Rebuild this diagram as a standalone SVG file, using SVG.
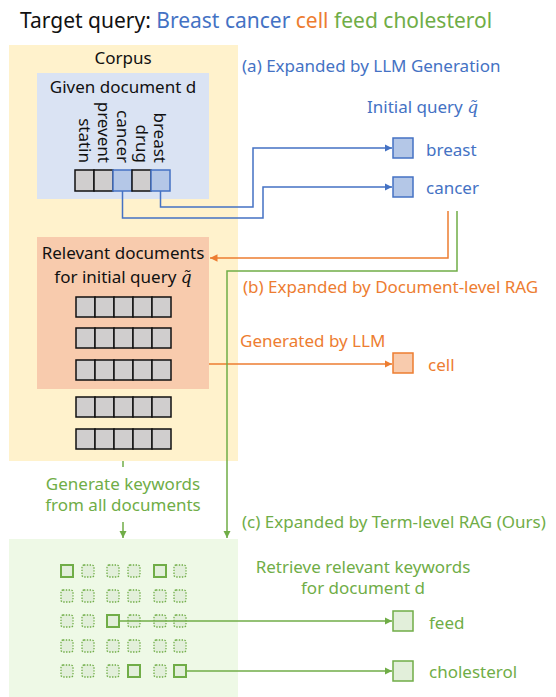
<svg xmlns="http://www.w3.org/2000/svg" width="556" height="697" viewBox="0 0 556 697">
  <style>
    text { font-family: "Noto Sans", "Liberation Sans", sans-serif; font-size: 17px; }
    .title { font-size: 21px; }
    .blue { fill: #4472c4; }
    .orange { fill: #ed7d31; }
    .green { fill: #70ad47; }
    .dark { fill: #111111; }
    .q { font-family: "DejaVu Serif", "Liberation Serif", serif; font-style: italic; }
    .cell { fill: #d0cece; stroke: #111111; stroke-width: 1.5; }
    .cellb { fill: #b4c7e7; stroke: #4472c4; stroke-width: 1.5; }
    .qb { fill: #b4c7e7; stroke: #4472c4; stroke-width: 1.5; }
    .qo { fill: #f8cbad; stroke: #ed7d31; stroke-width: 1.5; }
    .qg { fill: #e2efda; stroke: #70ad47; stroke-width: 1.5; }
    .kw { fill: #e2efda; stroke: #70ad47; stroke-width: 1.3; stroke-dasharray: 1.4 1.4; }
    .kws { fill: #e2efda; stroke: #70ad47; stroke-width: 2; }
    .lb { fill: none; stroke: #4472c4; stroke-width: 1.5; }
    .lo { fill: none; stroke: #ed7d31; stroke-width: 1.5; }
    .lg { fill: none; stroke: #70ad47; stroke-width: 1.5; }
  </style>
  <defs>
    <marker id="ab" viewBox="0 0 10 10" refX="10" refY="5" markerWidth="5" markerHeight="5" orient="auto" markerUnits="strokeWidth">
      <path d="M0,0 L10,5 L0,10 z" fill="#4472c4"/>
    </marker>
    <marker id="ao" viewBox="0 0 10 10" refX="10" refY="5" markerWidth="5" markerHeight="5" orient="auto" markerUnits="strokeWidth">
      <path d="M0,0 L10,5 L0,10 z" fill="#ed7d31"/>
    </marker>
    <marker id="ag" viewBox="0 0 10 10" refX="10" refY="5" markerWidth="5" markerHeight="5" orient="auto" markerUnits="strokeWidth">
      <path d="M0,0 L10,5 L0,10 z" fill="#70ad47"/>
    </marker>
  </defs>

  <rect width="556" height="697" fill="#ffffff"/>

  <!-- heading -->
  <text class="title" x="20" y="28"><tspan class="dark">Target query: </tspan><tspan class="blue">Breast cancer </tspan><tspan class="orange">cell </tspan><tspan class="green">feed cholesterol</tspan></text>

  <!-- corpus panel -->
  <g id="corpus">
    <rect x="9" y="45" width="229" height="416" fill="#fff2cc"/>
    <text class="dark" x="123" y="64" text-anchor="middle">Corpus</text>
  </g>

  <!-- given document d -->
  <g id="given-doc">
    <rect x="37" y="73" width="172" height="126" fill="#dae3f3"/>
    <text class="dark" x="123" y="93" text-anchor="middle">Given document d</text>
    <text class="dark" transform="translate(79,163) rotate(90)" text-anchor="end">statin</text>
    <text class="dark" transform="translate(98,163) rotate(90)" text-anchor="end">prevent</text>
    <text class="dark" transform="translate(117,163) rotate(90)" text-anchor="end">cancer</text>
    <text class="dark" transform="translate(136,163) rotate(90)" text-anchor="end">drug</text>
    <text class="dark" transform="translate(154,163) rotate(90)" text-anchor="end">breast</text>
    <rect class="cell" x="75" y="170" width="19" height="21"/>
    <rect class="cell" x="94" y="170" width="19" height="21"/>
    <rect class="cellb" x="113" y="170" width="19" height="21"/>
    <rect class="cell" x="132" y="170" width="19" height="21"/>
    <rect class="cellb" x="151" y="170" width="19" height="21"/>
  </g>

  <!-- relevant documents for the initial query -->
  <g id="relevant-docs">
    <rect x="37" y="237" width="172" height="152" fill="#f8cbad"/>
    <text class="dark" x="123" y="259" text-anchor="middle">Relevant documents</text>
    <text class="dark" x="123" y="283" text-anchor="middle">for initial query <tspan class="q">q̃</tspan></text>
  </g>

  <!-- document rows -->
  <g id="doc-rows">
    <g transform="translate(76,297)">
      <rect class="cell" x="0" y="0" width="19" height="20"/><rect class="cell" x="19" y="0" width="19" height="20"/><rect class="cell" x="38" y="0" width="19" height="20"/><rect class="cell" x="57" y="0" width="19" height="20"/><rect class="cell" x="76" y="0" width="19" height="20"/>
    </g>
    <g transform="translate(76,328)">
      <rect class="cell" x="0" y="0" width="19" height="20"/><rect class="cell" x="19" y="0" width="19" height="20"/><rect class="cell" x="38" y="0" width="19" height="20"/><rect class="cell" x="57" y="0" width="19" height="20"/><rect class="cell" x="76" y="0" width="19" height="20"/>
    </g>
    <g transform="translate(76,360)">
      <rect class="cell" x="0" y="0" width="19" height="20"/><rect class="cell" x="19" y="0" width="19" height="20"/><rect class="cell" x="38" y="0" width="19" height="20"/><rect class="cell" x="57" y="0" width="19" height="20"/><rect class="cell" x="76" y="0" width="19" height="20"/>
    </g>
    <g transform="translate(76,397)">
      <rect class="cell" x="0" y="0" width="19" height="20"/><rect class="cell" x="19" y="0" width="19" height="20"/><rect class="cell" x="38" y="0" width="19" height="20"/><rect class="cell" x="57" y="0" width="19" height="20"/><rect class="cell" x="76" y="0" width="19" height="20"/>
    </g>
    <g transform="translate(76,429)">
      <rect class="cell" x="0" y="0" width="19" height="20"/><rect class="cell" x="19" y="0" width="19" height="20"/><rect class="cell" x="38" y="0" width="19" height="20"/><rect class="cell" x="57" y="0" width="19" height="20"/><rect class="cell" x="76" y="0" width="19" height="20"/>
    </g>
  </g>

  <!-- keyword pool -->
  <g id="keyword-pool">
    <rect x="9" y="539" width="229" height="158" fill="#eef9e6"/>
    <g id="kw-grid">
      <rect class="kws" x="61" y="565" width="12" height="12"/>
      <rect class="kw" x="82" y="565" width="12" height="12" rx="2"/>
      <rect class="kw" x="107" y="565" width="12" height="12" rx="2"/>
      <rect class="kw" x="128" y="565" width="12" height="12" rx="2"/>
      <rect class="kws" x="154" y="565" width="12" height="12"/>
      <rect class="kw" x="174" y="565" width="12" height="12" rx="2"/>

      <rect class="kw" x="61" y="590" width="12" height="12" rx="2"/>
      <rect class="kw" x="82" y="590" width="12" height="12" rx="2"/>
      <rect class="kw" x="107" y="590" width="12" height="12" rx="2"/>
      <rect class="kw" x="128" y="590" width="12" height="12" rx="2"/>
      <rect class="kw" x="154" y="590" width="12" height="12" rx="2"/>
      <rect class="kw" x="174" y="590" width="12" height="12" rx="2"/>

      <rect class="kw" x="61" y="615" width="12" height="12" rx="2"/>
      <rect class="kw" x="82" y="615" width="12" height="12" rx="2"/>
      <rect class="kws" x="107" y="615" width="12" height="12"/>
      <rect class="kw" x="128" y="615" width="12" height="12" rx="2"/>
      <rect class="kw" x="154" y="615" width="12" height="12" rx="2"/>
      <rect class="kw" x="174" y="615" width="12" height="12" rx="2"/>

      <rect class="kw" x="61" y="640" width="12" height="12" rx="2"/>
      <rect class="kw" x="82" y="640" width="12" height="12" rx="2"/>
      <rect class="kw" x="107" y="640" width="12" height="12" rx="2"/>
      <rect class="kw" x="128" y="640" width="12" height="12" rx="2"/>
      <rect class="kw" x="154" y="640" width="12" height="12" rx="2"/>
      <rect class="kw" x="174" y="640" width="12" height="12" rx="2"/>

      <rect class="kw" x="61" y="665" width="12" height="12" rx="2"/>
      <rect class="kw" x="82" y="665" width="12" height="12" rx="2"/>
      <rect class="kw" x="107" y="665" width="12" height="12" rx="2"/>
      <rect class="kws" x="128" y="665" width="12" height="12"/>
      <rect class="kw" x="154" y="665" width="12" height="12" rx="2"/>
      <rect class="kws" x="174" y="665" width="12" height="12"/>
    </g>
  </g>

  <!-- expanded query terms -->
  <g id="term-breast">
    <rect class="qb" x="393" y="138" width="20" height="20"/>
    <text class="blue" x="426" y="156">breast</text>
  </g>
  <g id="term-cancer">
    <rect class="qb" x="393" y="177" width="20" height="20"/>
    <text class="blue" x="426" y="194">cancer</text>
  </g>
  <g id="term-cell">
    <rect class="qo" x="393" y="353" width="20" height="20"/>
    <text class="orange" x="428" y="371">cell</text>
  </g>
  <g id="term-feed">
    <rect class="qg" x="393" y="611" width="20" height="20"/>
    <text class="green" x="429" y="629">feed</text>
  </g>
  <g id="term-cholesterol">
    <rect class="qg" x="393" y="661" width="20" height="20"/>
    <text class="green" x="429" y="678">cholesterol</text>
  </g>

  <!-- section captions -->
  <g id="labels">
    <text class="blue" x="242" y="72">(a) Expanded by LLM Generation</text>
    <text class="blue" x="367" y="113">Initial query <tspan class="q">q̃</tspan></text>
    <text class="orange" x="243" y="293">(b) Expanded by Document-level RAG</text>
    <text class="orange" x="240" y="347">Generated by LLM</text>
    <text class="green" x="123" y="490" text-anchor="middle">Generate keywords</text>
    <text class="green" x="123" y="511" text-anchor="middle">from all documents</text>
    <text class="green" x="242" y="528">(c) Expanded by Term-level RAG (Ours)</text>
    <text class="green" x="363" y="573" text-anchor="middle">Retrieve relevant keywords</text>
    <text class="green" x="363" y="594" text-anchor="middle">for document d</text>
  </g>

  <!-- connectors -->
  <g id="connectors">
    <path class="lb" d="M160.5,191 V207 H253 V148 H392" marker-end="url(#ab)"/>
    <path class="lb" d="M122.5,191 V218 H263 V187 H392" marker-end="url(#ab)"/>
    <path class="lo" d="M448,211 V258 H210" marker-end="url(#ao)"/>
    <path class="lo" d="M209,364 H392" marker-end="url(#ao)"/>
    <path class="lg" d="M457,211 V271 H227 V538" marker-end="url(#ag)"/>
    <path class="lg" d="M123,461 V467"/>
    <path class="lg" d="M123,522 V538" marker-end="url(#ag)"/>
    <path class="lg" d="M119,621 H392" marker-end="url(#ag)"/>
    <path class="lg" d="M186,671 H392" marker-end="url(#ag)"/>
  </g>
</svg>
